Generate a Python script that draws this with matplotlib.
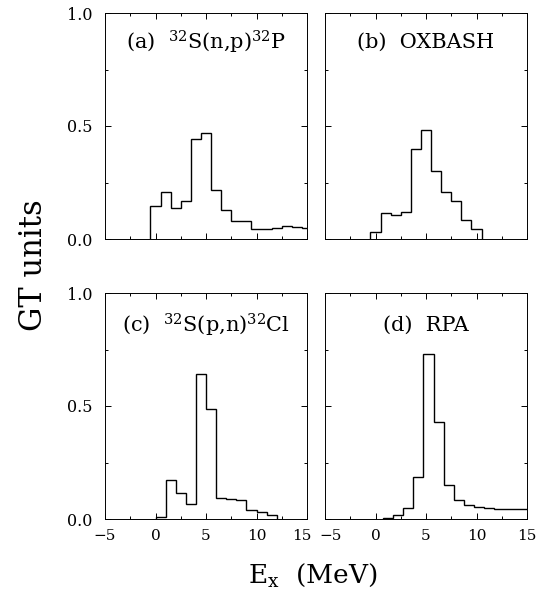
import matplotlib
matplotlib.use("Agg")
import matplotlib.pyplot as plt
import matplotlib.transforms as mtransforms
import numpy as np

# GT strength histograms, 1 MeV bins (bin edges in MeV)
a_edges = np.arange(-0.5, 16.0, 1.0)
a_vals = [0.148, 0.209, 0.138, 0.170, 0.444, 0.469, 0.219, 0.129,
          0.081, 0.081, 0.046, 0.046, 0.047, 0.056, 0.055, 0.050]

b_edges = np.arange(-0.5, 11.0, 1.0)
b_vals = [0.031, 0.115, 0.108, 0.121, 0.398, 0.484, 0.303, 0.207,
          0.167, 0.086, 0.044]

c_edges = np.arange(0.0, 13.0, 1.0)
c_vals = [0.010, 0.171, 0.116, 0.066, 0.640, 0.485, 0.093, 0.087,
          0.084, 0.041, 0.029, 0.019]

d_edges = np.arange(0.75, 16.0, 1.0)
d_vals = [0.004, 0.016, 0.049, 0.185, 0.732, 0.428, 0.150, 0.085,
          0.062, 0.053, 0.047, 0.044, 0.044, 0.044, 0.044]

titles = [r'(a)  $^{32}$S(n,p)$^{32}$P', '(b)  OXBASH',
          r'(c)  $^{32}$S(p,n)$^{32}$Cl', '(d)  RPA']

plt.rcParams['font.family'] = 'DejaVu Serif'
plt.rcParams['mathtext.fontset'] = 'dejavuserif'

fig = plt.figure(figsize=(5.39, 6.0), dpi=100)

W = 539.0
H = 600.0
boxes = [(105, 13), (325, 13), (105, 293), (325, 293)]  # left, top in px
data = [(a_edges, a_vals), (b_edges, b_vals), (c_edges, c_vals), (d_edges, d_vals)]
title_y = [0.87, 0.87, 0.858, 0.858]

axes = []
for i, ((left, top), (edges, vals)) in enumerate(zip(boxes, data)):
    ax = fig.add_axes([left / W, 1 - (top + 226) / H, 202 / W, 226 / H])
    ax.stairs(vals, edges, baseline=0, color='black', lw=1.0)
    ax.set_xlim(-5, 15)
    ax.set_ylim(0, 1.0)
    ax.set_xticks([-5, 0, 5, 10, 15])
    ax.set_xticks(np.arange(-2.5, 15, 5), minor=True)
    ax.set_yticks([0.0, 0.5, 1.0])
    ax.set_yticks([0.25, 0.75], minor=True)
    ax.tick_params(which='both', direction='in', top=True, right=True, width=0.7)
    ax.tick_params(which='major', length=4.5)
    ax.tick_params(which='minor', length=2.5)
    ax.tick_params(axis='y', pad=9, labelsize=11.5)
    ax.tick_params(axis='x', pad=7, labelsize=11)
    for s in ax.spines.values():
        s.set_linewidth(0.7)
    if i in (1, 3):
        ax.set_yticklabels([])
    else:
        ax.set_yticklabels(['0.0', '0.5', '1.0'])
    if i in (0, 1):
        ax.set_xticklabels([])
    ax.text(0.5, title_y[i], titles[i], transform=ax.transAxes,
            ha='center', va='center', fontsize=15)
    axes.append(ax)

# the "15" and "-5" labels meet between the two bottom panels; nudge apart
fig.canvas.draw()
shift_l = mtransforms.ScaledTranslation(-4 / 72, 0, fig.dpi_scale_trans)
shift_r = mtransforms.ScaledTranslation(4 / 72, 0, fig.dpi_scale_trans)
lab = axes[2].get_xticklabels()[-1]
lab.set_transform(lab.get_transform() + shift_l)
lab = axes[3].get_xticklabels()[0]
lab.set_transform(lab.get_transform() + shift_r)

fig.text(33 / W, 1 - 265 / H, 'GT units', rotation=90, ha='center',
         va='center', fontsize=22)
fig.text(313 / W, 1 - 575 / H, r'E$_{\mathregular{x}}$  (MeV)', ha='center',
         va='center', fontsize=19)

fig.savefig('out.png', dpi=100)
